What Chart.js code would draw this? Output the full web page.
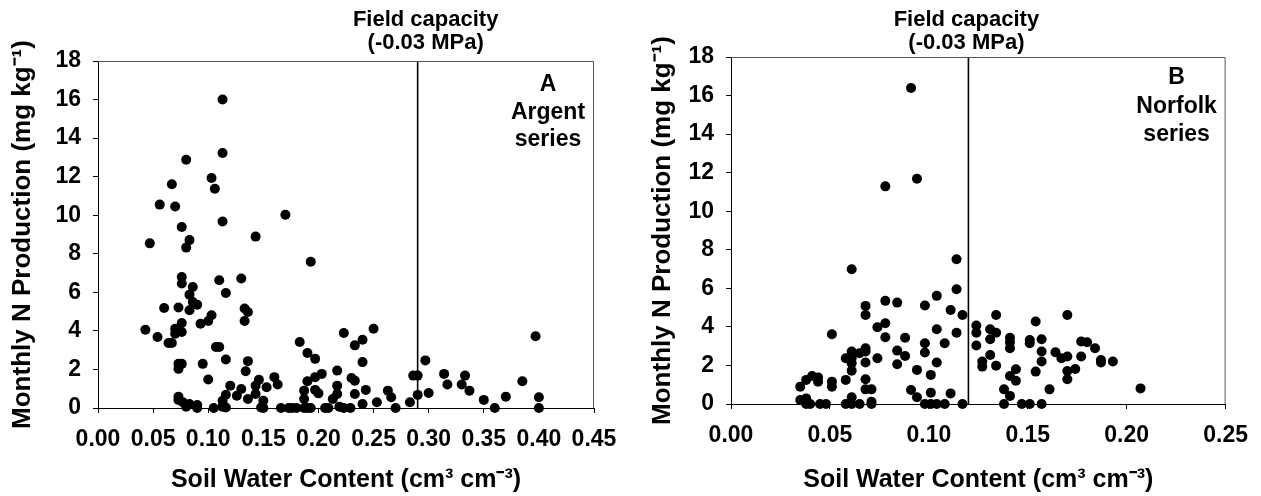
<!DOCTYPE html>
<html>
<head>
<meta charset="utf-8">
<script src="https://cdn.jsdelivr.net/npm/chart.js@4.4.1/dist/chart.umd.min.js"></script>
<style>
  body { margin: 0; background: #fff; }
  #wrapA { position: absolute; left: 0; top: 0; width: 630px; height: 496px; }
  #wrapB { position: absolute; left: 630px; top: 0; width: 631px; height: 496px; }
</style>
</head>
<body>
<div id="wrapA"><canvas id="chartA" width="630" height="496"></canvas></div>
<div id="wrapB"><canvas id="chartB" width="631" height="496"></canvas></div>
<script>
// Panel A - Argent series (soil water content vs monthly N production)
var argentX = [
  0.043, 0.047, 0.054, 0.056, 0.060, 0.064, 0.067, 0.067, 0.070, 0.070,
  0.070, 0.073, 0.073, 0.073, 0.073, 0.073, 0.076, 0.076, 0.076, 0.076,
  0.076, 0.076, 0.077, 0.080, 0.080, 0.083, 0.083, 0.083, 0.080, 0.083,
  0.086, 0.086, 0.090, 0.090, 0.090, 0.093, 0.095, 0.100, 0.100, 0.103,
  0.103, 0.105, 0.106, 0.107, 0.110, 0.110, 0.113, 0.113, 0.113, 0.113,
  0.113, 0.116, 0.116, 0.116, 0.116, 0.120, 0.126, 0.130, 0.130, 0.133,
  0.133, 0.134, 0.136, 0.136, 0.136, 0.143, 0.143, 0.143, 0.146, 0.148,
  0.150, 0.150, 0.153, 0.160, 0.163, 0.166, 0.170, 0.173, 0.176, 0.180,
  0.183, 0.187, 0.187, 0.187, 0.190, 0.190, 0.190, 0.193, 0.193, 0.197,
  0.197, 0.197, 0.200, 0.203, 0.206, 0.209, 0.213, 0.217, 0.217, 0.217,
  0.219, 0.223, 0.223, 0.229, 0.230, 0.233, 0.233, 0.233, 0.240, 0.240,
  0.240, 0.243, 0.250, 0.253, 0.263, 0.266, 0.270, 0.283, 0.286, 0.290,
  0.290, 0.297, 0.300, 0.314, 0.317, 0.330, 0.333, 0.337, 0.350, 0.360,
  0.370, 0.385, 0.397, 0.400, 0.400
];
var argentY = [
  4.06, 8.54, 3.68, 10.55, 5.19, 3.37, 3.37, 11.61, 10.45, 4.11,
  3.85, 5.21, 2.29, 2.03, 0.59, 0.42, 9.39, 6.80, 6.46, 4.41,
  3.94, 2.29, 0.30, 12.88, 8.32, 8.71, 5.88, 5.07, 0.07, 0.21,
  6.28, 5.50, 5.36, 0.16, 0.00, 4.37, 2.29, 1.48, 4.51, 4.81,
  11.93, 0.00, 11.37, 3.16, 3.16, 6.63, 16.00, 13.23, 9.67, 0.38,
  0.07, 5.97, 2.52, 0.69, 0.03, 1.16, 0.64, 0.99, 6.72, 5.16,
  4.51, 1.91, 4.98, 2.43, 0.47, 8.89, 1.16, 0.73, 1.46, 0.03,
  0.38, 0.00, 1.08, 1.60, 1.22, 0.00, 10.02, 0.00, 0.00, 0.00,
  3.42, 0.47, 0.90, 0.00, 1.39, 2.85, 0.00, 7.59, 0.00, 2.55,
  1.60, 0.94, 0.76, 1.77, 0.00, 0.00, 0.47, 1.94, 1.16, 0.73,
  0.07, 3.89, 0.00, 0.00, 1.56, 3.25, 1.42, 0.73, 3.54, 2.38,
  0.21, 0.94, 4.11, 0.30, 0.90, 0.56, 0.00, 0.30, 1.68, 1.68,
  0.68, 2.47, 0.78, 1.77, 1.22, 1.22, 1.68, 0.90, 0.42, 0.00,
  0.59, 1.39, 3.72, 0.56, 0.00
];

// Panel B - Norfolk series
var norfolkX = [
  0.035, 0.035, 0.038, 0.038, 0.038, 0.040, 0.041, 0.044, 0.044, 0.045,
  0.048, 0.051, 0.051, 0.051, 0.058, 0.058, 0.058, 0.061, 0.061, 0.061,
  0.061, 0.061, 0.061, 0.061, 0.065, 0.065, 0.068, 0.068, 0.068, 0.068,
  0.068, 0.068, 0.068, 0.071, 0.071, 0.071, 0.074, 0.074, 0.078, 0.078,
  0.078, 0.078, 0.084, 0.084, 0.084, 0.088, 0.088, 0.091, 0.091, 0.094,
  0.094, 0.094, 0.098, 0.098, 0.098, 0.098, 0.101, 0.101, 0.101, 0.104,
  0.104, 0.104, 0.104, 0.108, 0.108, 0.111, 0.111, 0.114, 0.114, 0.114,
  0.117, 0.117, 0.124, 0.124, 0.124, 0.127, 0.127, 0.131, 0.131, 0.131,
  0.134, 0.134, 0.134, 0.138, 0.138, 0.141, 0.141, 0.141, 0.141, 0.141,
  0.144, 0.144, 0.147, 0.151, 0.151, 0.151, 0.154, 0.154, 0.157, 0.157,
  0.157, 0.157, 0.161, 0.164, 0.167, 0.170, 0.170, 0.170, 0.170, 0.174,
  0.177, 0.177, 0.180, 0.184, 0.187, 0.187, 0.193, 0.207
];
var norfolkY = [
  0.90, 0.21, 1.25, 0.29, 0.00, 0.00, 1.45, 1.38, 1.16, 0.00,
  0.00, 3.62, 1.16, 0.90, 1.25, 2.37, 0.00, 6.99, 2.72, 2.37,
  2.11, 1.73, 0.35, 0.00, 2.63, 0.00, 5.09, 4.62, 2.89, 2.72,
  2.15, 1.28, 0.76, 0.76, 0.12, 0.00, 2.37, 3.98, 4.19, 5.35,
  3.46, 11.29, 5.26, 2.77, 2.06, 3.44, 2.49, 16.39, 0.73, 11.68,
  1.77, 0.35, 5.11, 3.15, 2.67, 0.00, 1.51, 0.59, 0.00, 5.61,
  3.88, 2.15, 0.00, 3.15, 0.00, 4.88, 0.55, 7.51, 5.95, 3.70,
  4.62, 0.00, 4.07, 3.70, 3.03, 2.20, 1.94, 3.88, 3.36, 2.54,
  4.62, 3.70, 1.99, 0.76, 0.00, 3.44, 3.19, 2.89, 1.45, 0.42,
  1.80, 1.21, 0.00, 3.32, 3.15, 0.00, 4.28, 1.68, 3.36, 2.72,
  2.20, 0.00, 0.76, 2.68, 2.37, 4.62, 2.46, 1.71, 1.28, 1.82,
  2.46, 3.24, 3.20, 2.89, 2.28, 2.15, 2.20, 0.81
];

// field capacity (-0.03 MPa) for each soil
var fieldCapA = 0.29;
var fieldCapB = 0.12;

var panelLabelA = ["A", "Argent", "series"];
var panelLabelB = ["B", "Norfolk", "series"];
var fieldLabel = ["Field capacity", "(-0.03 MPa)"];

var FONT = "'Liberation Sans', Arial, Helvetica, sans-serif";
Chart.defaults.font.family = FONT;
Chart.defaults.font.weight = "bold";
Chart.defaults.color = "#000";

function toPoints(xs, ys) {
  var pts = [];
  for (var i = 0; i < xs.length; i++) {
    pts.push({x: xs[i], y: ys[i]});
  }
  return pts;
}

// frame on top/right + the text labels inside/above the plot
var panelText = {
  id: "panelText",
  afterDraw: function(chart, args, opts) {
    var ctx = chart.ctx;
    var a = chart.chartArea;
    var xs = chart.scales.x;
    ctx.save();
    ctx.strokeStyle = "#555";
    ctx.lineWidth = 1;
    ctx.beginPath();
    ctx.moveTo(a.left, a.top + 0.5);
    ctx.lineTo(a.right - 0.5, a.top + 0.5);
    ctx.lineTo(a.right - 0.5, a.bottom);
    ctx.stroke();

    ctx.fillStyle = "#000";
    ctx.textAlign = "center";
    ctx.textBaseline = "middle";
    ctx.font = "bold 22px " + FONT;
    var fx = xs.getPixelForValue(opts.fieldCap) + opts.fieldShift;
    ctx.fillText(fieldLabel[0], fx, opts.fieldY[0]);
    ctx.fillText(fieldLabel[1], fx, opts.fieldY[1]);

    ctx.font = "bold 23px " + FONT;
    for (var i = 0; i < opts.label.length; i++) {
      ctx.fillText(opts.label[i], a.right - opts.labelRight, opts.labelY[i]);
    }
    ctx.restore();
  }
};

function makeConfig(xs, ys, fc, xMax, pad, yAxisW, xAxisH, yTitlePad, textOpts) {
  return {
    type: "scatter",
    data: {
      datasets: [{
        data: toPoints(xs, ys),
        backgroundColor: "#000",
        borderWidth: 0,
        pointRadius: 5,
        pointHoverRadius: 5,
        clip: false
      }, {
        type: "line",
        data: [{x: fc, y: 0}, {x: fc, y: 18}],
        borderColor: "#000",
        borderWidth: 1.6,
        pointRadius: 0,
        showLine: true,
        clip: false
      }]
    },
    options: {
      responsive: false,
      animation: false,
      devicePixelRatio: 1,
      layout: { padding: pad },
      plugins: {
        legend: { display: false },
        tooltip: { enabled: false },
        panelText: textOpts
      },
      scales: {
        x: {
          type: "linear",
          min: 0,
          max: xMax,
          border: { color: "#000", width: 1 },
          grid: { drawOnChartArea: false, tickLength: 5, tickColor: "#000" },
          ticks: {
            stepSize: 0.05,
            padding: 13,
            font: { size: 23, weight: "bold" },
            callback: function(v) { return v.toFixed(2); }
          },
          title: {
            display: true,
            text: "Soil Water Content (cm³ cm⁻³)",
            font: { size: 25, weight: "bold" },
            padding: { top: 0, bottom: 1 }
          },
          afterFit: function(s) { s.height = xAxisH; }
        },
        y: {
          type: "linear",
          min: 0,
          max: 18,
          border: { color: "#000", width: 1 },
          grid: { drawOnChartArea: false, tickLength: 5, tickColor: "#000" },
          ticks: {
            stepSize: 2,
            padding: 12,
            font: { size: 23, weight: "bold" }
          },
          title: {
            display: true,
            text: "Monthly N Production (mg kg⁻¹)",
            font: { size: 26, weight: "bold" },
            padding: { top: yTitlePad, bottom: 0 }
          },
          afterFit: function(s) { s.width = yAxisW; }
        }
      }
    },
    plugins: [panelText]
  };
}

var chartA = new Chart(document.getElementById("chartA"),
  makeConfig(argentX, argentY, fieldCapA, 0.45,
    { top: 61, right: 36, left: 0, bottom: 0 }, 98, 88, 7,
    { fieldCap: fieldCapA, fieldShift: 8, fieldY: [20, 43],
      label: panelLabelA, labelRight: 46, labelY: [85, 113, 140] }));

var chartB = new Chart(document.getElementById("chartB"),
  makeConfig(norfolkX, norfolkY, fieldCapB, 0.25,
    { top: 57, right: 33, left: 0, bottom: 0 }, 101, 92, 17,
    { fieldCap: fieldCapB, fieldShift: -2, fieldY: [20, 43],
      label: panelLabelB, labelRight: 49, labelY: [78, 107, 135] }));
</script>
</body>
</html>
